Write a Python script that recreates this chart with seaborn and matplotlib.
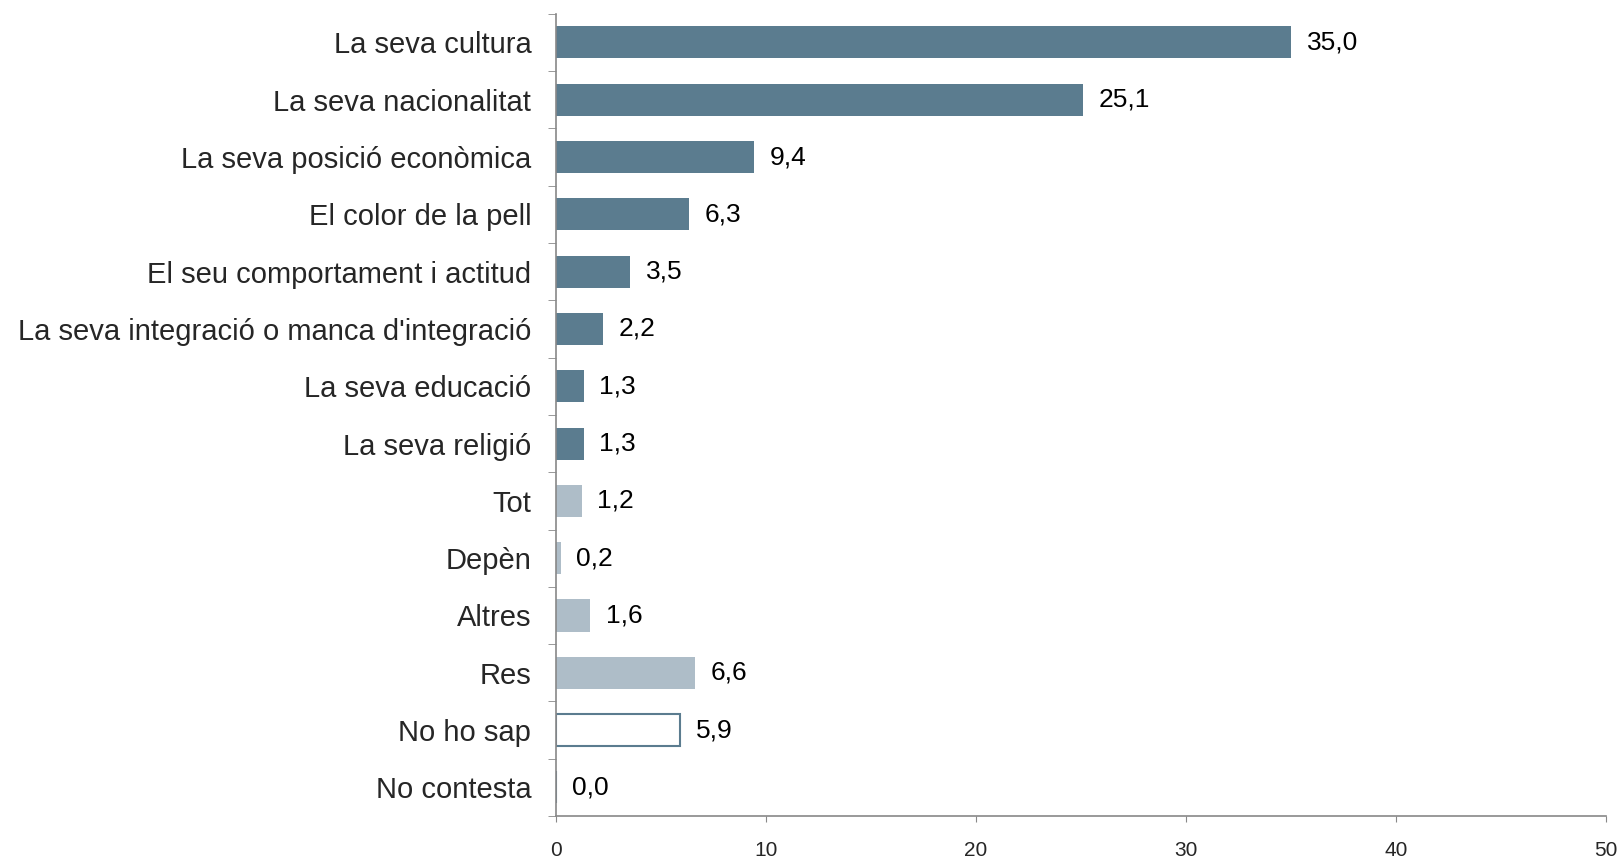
import numpy as np
import pandas as pd
import matplotlib
matplotlib.use('Agg')
import matplotlib.pyplot as plt
import seaborn as sns

# Data
categories = [
    'La seva cultura', 'La seva nacionalitat', 'La seva posició econòmica',
    'El color de la pell', 'El seu comportament i actitud',
    "La seva integració o manca d'integració", 'La seva educació',
    'La seva religió', 'Tot', 'Depèn', 'Altres', 'Res', 'No ho sap',
    'No contesta'
]
values = [35.0, 25.1, 9.4, 6.3, 3.5, 2.2, 1.3, 1.3, 1.2, 0.2, 1.6, 6.6, 5.9, 0.0]
groups = ['main'] * 8 + ['other'] * 4 + ['nsnc'] * 2

dark = '#5B7C8F'
light = '#AEBDC8'
fills = {'main': dark, 'other': light, 'nsnc': 'white'}

df = pd.DataFrame({'cat': categories, 'val': values, 'grp': groups})

sns.set_style('white')
plt.rcParams['font.family'] = ['Liberation Sans', 'DejaVu Sans']

fig = plt.figure(figsize=(16.22, 8.59), dpi=100)
ax = fig.add_axes([0.343, 0.05, 0.647, 0.934])

sns.barplot(data=df, x='val', y='cat', hue='cat', orient='h',
            palette=[fills[g] for g in groups], legend=False,
            width=0.56, saturation=1, ax=ax)

for patch, g in zip(ax.patches, groups):
    if g == 'nsnc':
        patch.set_edgecolor(dark)
        patch.set_linewidth(1.5)
    else:
        patch.set_edgecolor('none')

# value labels with comma decimal
for i, v in enumerate(values):
    ax.text(v + 0.75, i, f'{v:.1f}'.replace('.', ','), va='center', ha='left',
            fontsize=19, color='black')

n = len(categories)
ax.set_xlim(0, 50)
ax.set_ylim(n - 0.5, -0.5)
ax.set_xticks([0, 10, 20, 30, 40, 50])
ax.tick_params(axis='x', labelsize=15, length=4, color='#888888', pad=14, direction='out')
ax.set_yticks(range(n))
ax.set_yticklabels(categories)
ax.tick_params(axis='y', which='major', length=0, labelsize=21, pad=18)
ax.set_yticks(np.arange(-0.5, n, 1.0), minor=True)
ax.tick_params(axis='y', which='minor', length=6, color='#888888', direction='out')
ax.xaxis.set_ticks_position('bottom')
ax.yaxis.set_ticks_position('left')

for s in ['top', 'right']:
    ax.spines[s].set_visible(False)
for s in ['left', 'bottom']:
    ax.spines[s].set_color('#888888')
    ax.spines[s].set_linewidth(1.2)

ax.set_xlabel('')
ax.set_ylabel('')
ax.grid(False)

fig.savefig('out.png', dpi=100)
